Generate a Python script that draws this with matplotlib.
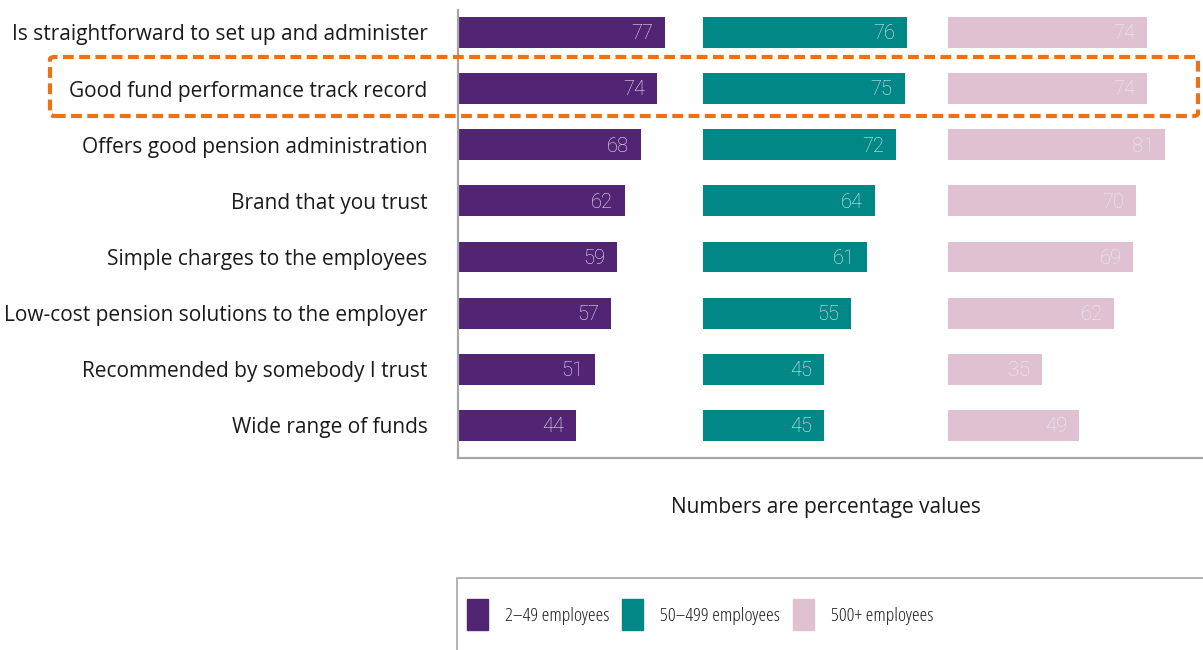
import matplotlib.pyplot as plt
from matplotlib.patches import Rectangle, FancyBboxPatch
import numpy as np

categories = [
    "Is straightforward to set up and administer",
    "Good fund performance track record",
    "Offers good pension administration",
    "Brand that you trust",
    "Simple charges to the employees",
    "Low-cost pension solutions to the employer",
    "Recommended by somebody I trust",
    "Wide range of funds",
]
series_names = ["2–49 employees", "50–499 employees", "500+ employees"]
small_firms = [77, 74, 68, 62, 59, 57, 51, 44]
mid_firms = [76, 75, 72, 64, 61, 55, 45, 45]
large_firms = [74, 74, 81, 70, 69, 62, 35, 49]
colors = ["#522574", "#008786", "#e0c1d1"]

W, H = 1203, 650
fig = plt.figure(figsize=(W / 100, H / 100), dpi=100)
ax = fig.add_axes([458 / W, 1 - 458 / H, 1 - 458 / W, 448 / H])

label_font = "Open Sans"
num_font = "Roboto"

y = np.arange(len(categories))
span = 91  # width reserved for each size band
for i, (vals, col) in enumerate(zip([small_firms, mid_firms, large_firms], colors)):
    bars = ax.barh(y, vals, left=i * span, height=0.55, color=col)
    for b, v in zip(bars, vals):
        ax.annotate(str(v), (b.get_x() + b.get_width(), b.get_y() + b.get_height() / 2),
                    xytext=(-8.5, -1), textcoords="offset points", ha="right", va="center",
                    fontsize=14.5, color="#efeaf3", family=num_font, fontweight="light")

ax.set_xlim(0, 745 / 2.69)
ax.set_ylim(7.58, -0.40)
ax.set_yticks(y)
ax.set_yticklabels(categories, fontsize=15, family=label_font, color="#1a1a1a")
ax.tick_params(axis="y", length=0, pad=22)
ax.set_xticks([])
for s in ["top", "right"]:
    ax.spines[s].set_visible(False)
for s in ["left", "bottom"]:
    ax.spines[s].set_color("#a6a6a6")
    ax.spines[s].set_linewidth(1.6)

# dashed highlight around the second statement
fig.patches.append(FancyBboxPatch((50 / W, 1 - 116 / H), 1148 / W, 59 / H,
                                  boxstyle="round,pad=0,rounding_size=0.004",
                                  transform=fig.transFigure, fill=False,
                                  edgecolor="#ec7014", linewidth=3,
                                  linestyle=(0, (2.6, 1.3)), zorder=5))

fig.text(826 / W, 1 - 507 / H, "Numbers are percentage values", ha="center", va="center",
         fontsize=15, family=label_font, color="#1a1a1a")

# legend box
fig.patches.append(Rectangle((457 / W, -0.01), 760 / W, (650 - 578) / H + 0.01,
                             transform=fig.transFigure, fill=False,
                             edgecolor="#a6a6a6", linewidth=1.2))
key_x = [467, 622, 793]
for kx, name, col in zip(key_x, series_names, colors):
    fig.patches.append(Rectangle((kx / W, 1 - 630 / H), 21 / W, 31 / H,
                                 transform=fig.transFigure, color=col))
    fig.text((kx + 38) / W, 1 - 616 / H, name, ha="left", va="center",
             fontsize=14, family=label_font, color="#1a1a1a", fontstretch="condensed")

fig.savefig("out.png", dpi=100)
